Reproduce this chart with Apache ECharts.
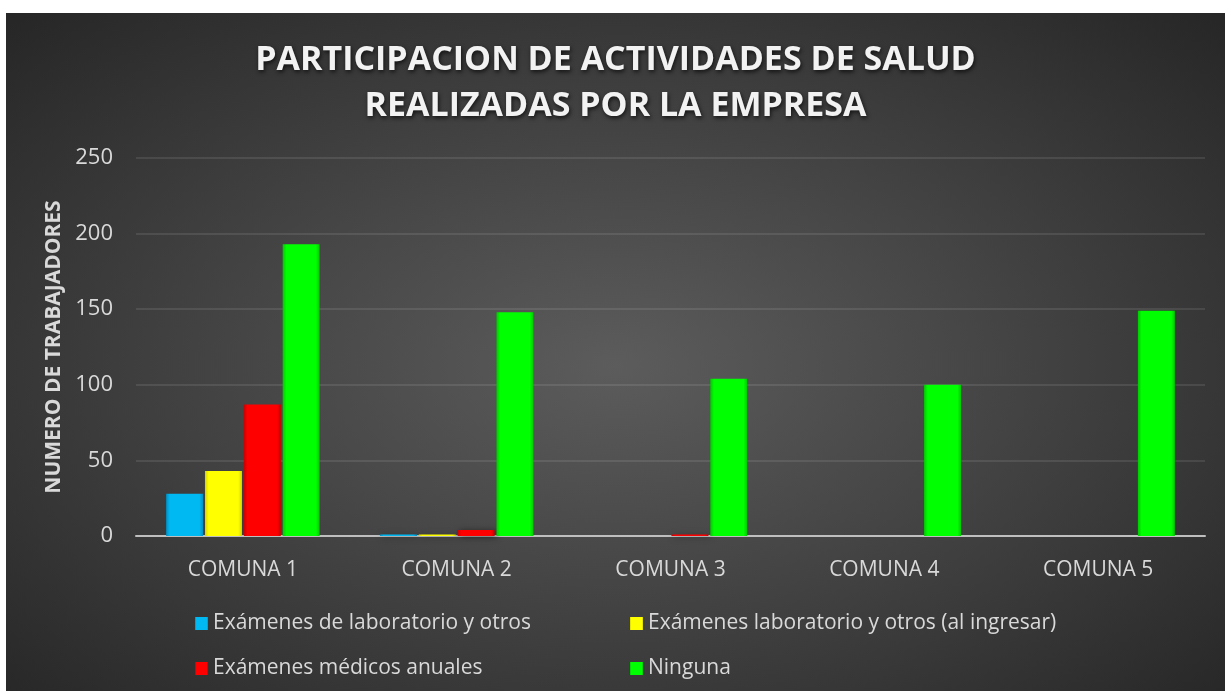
<!DOCTYPE html>
<html>
<head>
    <meta charset="utf-8">
    <title>ECharts</title>
    <script src="https://cdn.jsdelivr.net/npm/echarts@6/dist/echarts.min.js"></script>
    <style>
        body { margin: 0; background: #ffffff; }
        #main {
            position: absolute; left: 6px; top: 13px; width: 1219px; height: 678px;
            background: radial-gradient(ellipse at 50% 52%, #5c5c5c 0%, #474747 40%, #262626 100%);
        }
    </style>
</head>
<body>
<div id="main"></div>
<script type="text/javascript">
    // data
    var categories = ['COMUNA 1', 'COMUNA 2', 'COMUNA 3', 'COMUNA 4', 'COMUNA 5'];
    var labOtros = [28, 1, 0, 0, 0];
    var labIngresar = [43, 1, 0, 0, 0];
    var medicosAnuales = [87, 4, 1, 0, 0];
    var ninguna = [193, 148, 104, 100, 149];
    var seriesNames = ['Exámenes de laboratorio y otros', 'Exámenes laboratorio y otros (al ingresar)',
        'Exámenes médicos anuales', 'Ninguna'];
    var seriesColors = ['#00b8f2', '#ffff00', '#ff0000', '#00ff00'];
    var edgeColors = ['#0090c4', '#d4d400', '#c80000', '#00c800'];
    var seriesData = [labOtros, labIngresar, medicosAnuales, ninguna];

    var myChart = echarts.init(document.getElementById('main'));

    var font = '"Open Sans", Lato, sans-serif';

    // bevel-ish fill: darker at the sides
    function bevel(c, e) {
        return new echarts.graphic.LinearGradient(0, 0, 1, 0, [
            { offset: 0, color: e },
            { offset: 0.1, color: c },
            { offset: 0.9, color: c },
            { offset: 1, color: e }
        ]);
    }

    var series = [];
    for (var i = 0; i < seriesData.length; i++) {
        series.push({
            name: seriesNames[i],
            type: 'bar',
            data: seriesData[i],
            barWidth: 37,
            barGap: '5%',
            itemStyle: {
                color: bevel(seriesColors[i], edgeColors[i]),
                shadowColor: 'rgba(0,0,0,0.55)',
                shadowBlur: 6,
                shadowOffsetX: 2,
                shadowOffsetY: 1
            }
        });
    }

    var legendText = { color: '#d9d9d9', fontSize: 21, fontFamily: font };

    var option = {
        backgroundColor: 'transparent',
        color: seriesColors,
        title: {
            text: 'PARTICIPACION DE ACTIVIDADES DE SALUD\nREALIZADAS POR LA EMPRESA',
            left: 'center',
            top: 19,
            textStyle: {
                color: '#f2f2f2',
                fontSize: 34,
                fontWeight: 'bold',
                fontFamily: font,
                lineHeight: 46,
                textShadowColor: 'rgba(0,0,0,0.7)',
                textShadowBlur: 4,
                textShadowOffsetX: 1,
                textShadowOffsetY: 2
            }
        },
        legend: [{
            data: [seriesNames[0], seriesNames[2]],
            orient: 'vertical',
            left: 184,
            top: 595,
            icon: 'rect',
            itemWidth: 13,
            itemHeight: 13,
            itemGap: 24,
            textStyle: legendText
        }, {
            data: [seriesNames[1], seriesNames[3]],
            orient: 'vertical',
            left: 619,
            top: 595,
            icon: 'rect',
            itemWidth: 13,
            itemHeight: 13,
            itemGap: 24,
            textStyle: legendText
        }],
        grid: {
            left: 130,
            right: 20,
            top: 145,
            bottom: 155
        },
        xAxis: {
            type: 'category',
            data: categories,
            axisTick: { show: false },
            axisLine: { lineStyle: { color: '#bfbfbf', width: 2 } },
            axisLabel: { color: '#d9d9d9', fontSize: 21, fontFamily: font, margin: 24 }
        },
        yAxis: {
            type: 'value',
            min: 0,
            max: 250,
            interval: 50,
            name: 'NUMERO DE TRABAJADORES',
            nameLocation: 'middle',
            nameGap: 67,
            nameTextStyle: { color: '#d9d9d9', fontSize: 21, fontWeight: 'bold', fontFamily: font },
            axisLabel: { color: '#d9d9d9', fontSize: 22, fontFamily: font, margin: 23 },
            axisLine: { show: false },
            splitLine: { lineStyle: { color: 'rgba(255,255,255,0.13)', width: 1.5 } }
        },
        series: series
    };
    myChart.setOption(option);
</script>
</body>
</html>
